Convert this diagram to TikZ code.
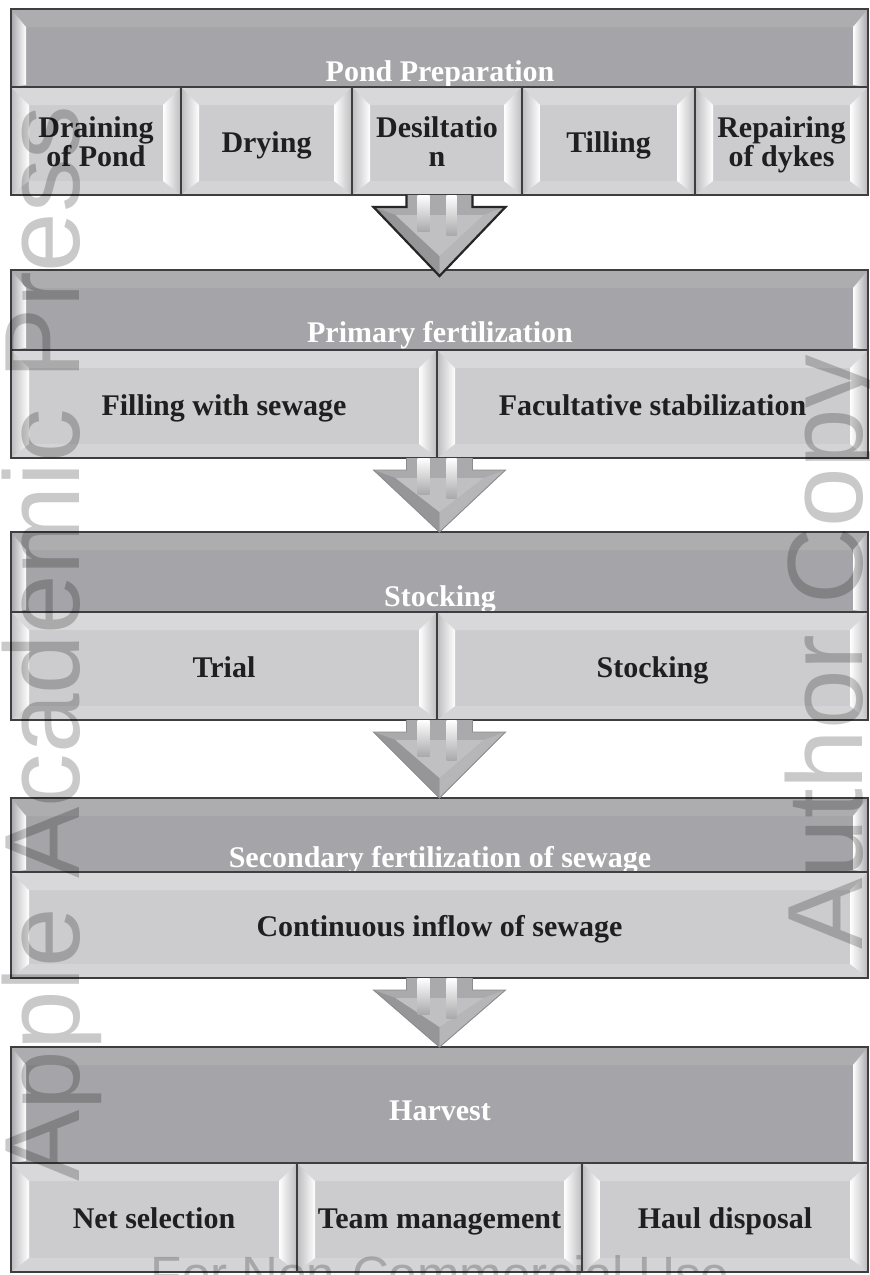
\documentclass[tikz,border=0pt]{standalone}
\usepackage{fontspec}
\setmainfont{Liberation Serif}
\newfontfamily\wmfont{Liberation Sans}
\usetikzlibrary{calc,fit}
\definecolor{hbase}{RGB}{165,165,169}
\definecolor{htop}{RGB}{173,173,176}
\definecolor{sbase}{RGB}{204,204,206}
\definecolor{stopc}{RGB}{216,216,218}
\definecolor{sbot}{RGB}{212,212,214}
\definecolor{sside}{RGB}{188,188,190}
\definecolor{frcol}{RGB}{62,62,64}
\definecolor{abody}{RGB}{170,170,172}
\definecolor{adark}{RGB}{150,150,152}
\definecolor{alight}{RGB}{182,182,184}
\definecolor{ainner}{RGB}{192,192,194}
\tikzset{
  frameline/.style={draw=frcol, line width=1.6pt},
  subtext/.style={font=\fontsize{30}{29}\selectfont\bfseries, text=black!88, inner sep=0pt, anchor=base},
  headtext/.style={font=\fontsize{30}{30}\selectfont\bfseries, text=white, inner sep=0pt, anchor=base},
  wm/.style={font=\wmfont\fontsize{107}{107}\selectfont, text=black, text opacity=0.21, inner sep=0pt},
  darkedge/.style={draw=black!85, line width=2.2pt},
  softedge/.style={draw=black!45, line width=0.9pt},
}
\newcommand\SubBox[5]{%
  \fill[sbase] (#2,#3) rectangle (#4,#5);
  \fill[stopc] (#2,#3) -- (#4,#3) -- (#4-18,#3+18) -- (#2+18,#3+18) -- cycle;
  \fill[sbot] (#2,#5) -- (#4,#5) -- (#4-18,#5-14) -- (#2+18,#5-14) -- cycle;
  \shade[left color=sside, right color=white] (#2,#3) -- (#2+18,#3+18) -- (#2+18,#5-14) -- (#2,#5) -- cycle;
  \shade[left color=white, right color=sside] (#4,#3) -- (#4-18,#3+18) -- (#4-18,#5-14) -- (#4,#5) -- cycle;
  \node[fit={(#2,#3) (#4,#5)}, inner sep=0pt, outer sep=0pt, frameline] (#1) {};
}
\newcommand\HeadBox[5]{%
  \fill[hbase] (#2,#3) rectangle (#4,#5);
  \fill[htop] (#2,#3) -- (#4,#3) -- (#4-15,#3+18) -- (#2+15,#3+18) -- cycle;
  \shade[left color=hbase, right color=white] (#2,#3) -- (#2+15,#3+18) -- (#2+15,#5-2) -- (#2,#5) -- cycle;
  \shade[left color=white, right color=hbase] (#4,#3) -- (#4-15,#3+18) -- (#4-15,#5-2) -- (#4,#5) -- cycle;
  \node[fit={(#2,#3) (#4,#5)}, inner sep=0pt, outer sep=0pt, frameline] (#1) {};
}
\newcommand\BigArrow[3]{%
  \fill[abody] let \p1=(#1), \p2=(#2) in
    (\x2-33pt,\y1) -- (\x2-33pt,\y1-12pt) -- (\x2-66pt,\y1-12pt) -- (\x2,\y2) -- (\x2+66pt,\y1-12pt) -- (\x2+33pt,\y1-12pt) -- (\x2+33pt,\y1) -- cycle;
  \fill[adark] let \p1=(#1), \p2=(#2) in
    (\x2-66pt,\y1-12pt) -- (\x2,\y2) -- (\x2,\y2+20pt) -- (\x2-44pt,\y1-20pt) -- cycle;
  \fill[alight] let \p1=(#1), \p2=(#2) in
    (\x2+66pt,\y1-12pt) -- (\x2,\y2) -- (\x2,\y2+20pt) -- (\x2+44pt,\y1-20pt) -- cycle;
  \fill[ainner] let \p1=(#1), \p2=(#2) in
    (\x2-44pt,\y1-20pt) -- (\x2+44pt,\y1-20pt) -- (\x2,\y2+20pt) -- cycle;
  \shade[top color=white, bottom color=abody] let \p1=(#1), \p2=(#2) in
    (\x2-22pt,\y1) rectangle (\x2-10pt,\y1-36pt);
  \shade[top color=white, bottom color=abody] let \p1=(#1), \p2=(#2) in
    (\x2+7pt,\y1) rectangle (\x2+17pt,\y1-40pt);
  \draw[#3, line join=miter] let \p1=(#1), \p2=(#2) in
    (\x2-33pt,\y1) -- (\x2-33pt,\y1-12pt) -- (\x2-66pt,\y1-12pt) -- (\x2,\y2) -- (\x2+66pt,\y1-12pt) -- (\x2+33pt,\y1-12pt) -- (\x2+33pt,\y1);
}
\begin{document}
\begin{tikzpicture}[x=1pt,y=-1pt]
\path[use as bounding box] (0,0) rectangle (870,1275);
\clip (0,0) rectangle (870,1275);
\fill[white] (0,0) rectangle (870,1275);

% Section 1
\HeadBox{h1}{11}{9}{868}{87}
\node[headtext] (h1t) at (440,81) {Pond Preparation};
\SubBox{s11}{11}{87}{181}{195}
\SubBox{s12}{181}{87}{352}{195}
\SubBox{s13}{352}{87}{522}{195}
\SubBox{s14}{522}{87}{695}{195}
\SubBox{s15}{695}{87}{868}{195}
\node[subtext] (t11a) at ($(s11.center)+(0,-4)$) {Draining};
\node[subtext] (t11b) at ($(s11.center)+(0,25)$) {of Pond};
\node[subtext] (t12) at ($(s12.center)+(0,11)$) {Drying};
\node[subtext] (t13a) at ($(s13.center)+(0,-4)$) {Desiltatio};
\node[subtext] (t13b) at ($(s13.center)+(0,25)$) {n};
\node[subtext] (t14) at ($(s14.center)+(0,11)$) {Tilling};
\node[subtext] (t15a) at ($(s15.center)+(0,-4)$) {Repairing};
\node[subtext] (t15b) at ($(s15.center)+(0,25)$) {of dykes};
\coordinate (b1) at (440,195);

% Section 2
\HeadBox{h2}{11}{270}{868}{350}
\node[headtext] (h2t) at (440,342) {Primary fertilization};
\SubBox{s21}{11}{350}{437}{458}
\SubBox{s22}{437}{350}{868}{458}
\node[subtext] (t21) at ($(s21.center)+(0,11)$) {Filling with sewage};
\node[subtext] (t22) at ($(s22.center)+(0,11)$) {Facultative stabilization};
\coordinate (b2) at (440,458);

% Section 3
\HeadBox{h3}{11}{532}{868}{612}
\node[headtext] (h3t) at (440,606) {Stocking};
\SubBox{s31}{11}{612}{437}{720}
\SubBox{s32}{437}{612}{868}{720}
\node[subtext] (t31) at ($(s31.center)+(0,11)$) {Trial};
\node[subtext] (t32) at ($(s32.center)+(0,11)$) {Stocking};
\coordinate (b3) at (440,720);

% Section 4
\HeadBox{h4}{11}{798}{868}{872}
\node[headtext] (h4t) at (440,867) {Secondary fertilization of sewage};
\SubBox{s41}{11}{872}{868}{978}
\node[subtext] (t41) at ($(s41.center)+(0,11)$) {Continuous inflow of sewage};
\coordinate (b4) at (440,978);

% Section 5
\HeadBox{h5}{11}{1047}{868}{1163}
\node[headtext] (h5t) at (440,1120) {Harvest};
\SubBox{s51}{11}{1163}{297}{1272}
\SubBox{s52}{297}{1163}{582}{1272}
\SubBox{s53}{582}{1163}{868}{1272}
\node[subtext] (t51) at ($(s51.center)+(0,11)$) {Net selection};
\node[subtext] (t52) at ($(s52.center)+(0,11)$) {Team management};
\node[subtext] (t53) at ($(s53.center)+(0,11)$) {Haul disposal};

% Arrows
\BigArrow{b1}{$(h2.north)+(0,6)$}{darkedge}
\BigArrow{b2}{h3.north}{softedge}
\BigArrow{b3}{h4.north}{softedge}
\BigArrow{b4}{h5.north}{softedge}

% Watermarks
\node[wm, rotate=90, anchor=base west] (wm1) at (79,1182) {Apple Academic Press};
\node[wm, rotate=90, anchor=base west] (wm2) at (862,950) {Author Copy};
\node[wm, font=\wmfont\fontsize{51}{51}\selectfont, anchor=base] (wm3) at (440,1292) {For Non-Commercial Use};
\end{tikzpicture}
\end{document}
